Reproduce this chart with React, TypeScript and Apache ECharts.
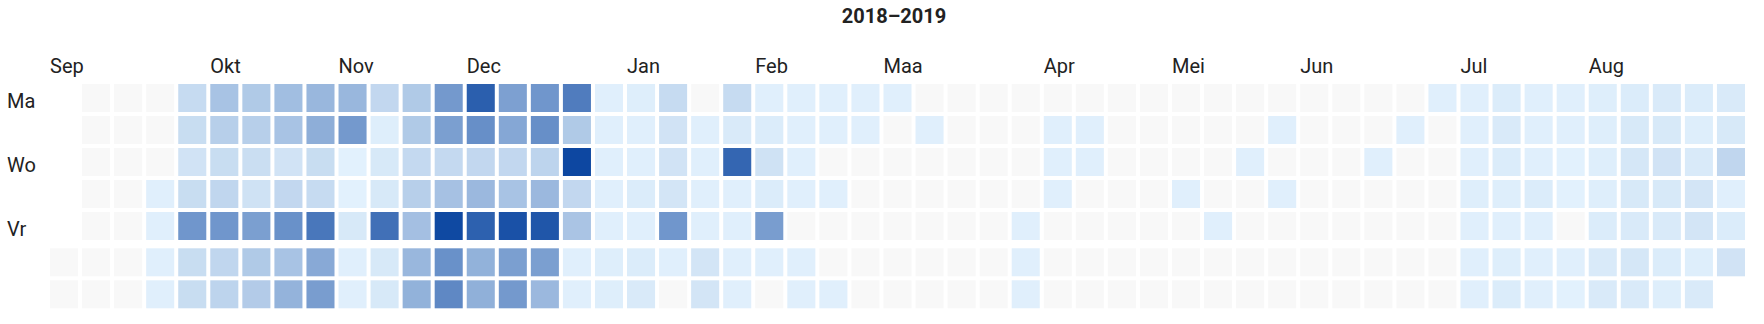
import React, { useEffect, useRef } from 'react';
import * as echarts from 'echarts';

const TITLE = '2018–2019';
const MONTH_LABELS = ['Sep', 'Okt', 'Nov', 'Dec', 'Jan', 'Feb', 'Maa', 'Apr', 'Mei', 'Jun', 'Jul', 'Aug'];
const DAY_LABELS = ['Ma', '', 'Wo', '', 'Vr', '', ''];

// daily values (0 = none), one array per month
const sep2018 = [0, 0, 0, 0, 0, 0, 0, 0, 0, 0, 0, 0, 0, 0, 0, 0, 0, 0, 0, 2, 2, 2, 2, 14, 13, 9, 13, 54, 13, 13];
const oct2018 = [28, 21, 13, 17, 54, 17, 18, 24, 21, 12, 10, 49, 24, 23, 31, 28, 9, 16, 57, 28, 37, 35, 40, 13, 14, 72, 43, 50, 35, 52, 1];
const nov2018 = [1, 6, 2, 2, 16, 3, 6, 6, 76, 6, 6, 24, 24, 15, 21, 30, 35, 38, 52, 49, 15, 29, 99, 57, 62, 86, 58, 16, 34, 85];
const dec2018 = [38, 39, 48, 44, 16, 28, 94, 49, 52, 54, 58, 18, 34, 91, 49, 34, 69, 24, 100, 16, 27, 2, 2, 2, 2, 2, 2, 2, 3, 3, 3];
const jan2019 = [2, 2, 4, 2, 4, 5, 14, 9, 9, 8, 54, 2, 0, 0, 2, 2, 2, 2, 8, 8, 14, 5, 82, 2, 2, 2, 2, 2, 4, 10, 4];
const feb2019 = [50, 2, 0, 2, 2, 2, 2, 0, 2, 2, 2, 2, 0, 2, 0, 0, 2, 2, 2, 0, 0, 0, 0, 0, 2, 0, 0, 0];
const mar2019 = [0, 0, 0, 0, 2, 0, 0, 0, 0, 0, 0, 0, 0, 0, 0, 0, 0, 0, 0, 0, 0, 0, 0, 0, 0, 0, 0, 0, 2, 2, 2];
const apr2019 = [0, 2, 2, 2, 0, 0, 0, 0, 2, 2, 0, 0, 0, 0, 0, 0, 0, 0, 0, 0, 0, 0, 0, 0, 0, 0, 0, 0, 0, 0];
const may2019 = [0, 2, 0, 0, 0, 0, 0, 0, 0, 2, 0, 0, 0, 0, 2, 0, 0, 0, 0, 0, 2, 0, 2, 0, 0, 0, 0, 0, 0, 0, 0];
const jun2019 = [0, 0, 0, 0, 0, 0, 0, 0, 0, 0, 0, 2, 0, 0, 0, 0, 0, 2, 0, 0, 0, 0, 0, 2, 0, 0, 0, 0, 0, 0];
const jul2019 = [2, 2, 2, 3, 2, 2, 2, 4, 5, 4, 3, 2, 3, 4, 2, 2, 2, 4, 2, 2, 2, 2, 2, 1, 1, 0, 2, 1, 3, 3, 3];
const aug2019 = [3, 4, 5, 5, 4, 6, 7, 6, 5, 7, 5, 5, 6, 9, 6, 5, 4, 3, 4, 3, 5, 8, 8, 3, 5, 5, 6, 17, 2, 4, 9];

const MONTHS: [number, number, number[]][] = [
  [2018, 8, sep2018], [2018, 9, oct2018], [2018, 10, nov2018], [2018, 11, dec2018],
  [2019, 0, jan2019], [2019, 1, feb2019], [2019, 2, mar2019], [2019, 3, apr2019],
  [2019, 4, may2019], [2019, 5, jun2019], [2019, 6, jul2019], [2019, 7, aug2019],
];

const CAL_LEFT = 48;
const CAL_RIGHT = 17;
const CAL_TOP = 82;
const CELL_H = 32;
const GAP = 4;
const WEEKEND_SHIFT = 4.3;
const FONT = 'Roboto, "Noto Sans", sans-serif';
const TEXT_COLOR = '#222';
const EMPTY_COLOR = '#f8f8f8';

function buildDays() {
  const out: [number, number][] = [];
  MONTHS.forEach(([y, m, vals]) => {
    vals.forEach((v, i) => out.push([+new Date(y, m, i + 1), v]));
  });
  return out;
}

export default function App() {
  const ref = useRef<HTMLDivElement>(null);
  useEffect(() => {
    if (!ref.current) return;
    const chart = echarts.init(ref.current, undefined, { renderer: 'svg' });
    const days = buildDays();
    const monthStarts = MONTHS.map(([y, m]) => [+new Date(y, m, 1), 0]);
    const option: any = {
      animation: false,
      title: {
        text: TITLE,
        left: 894,
        top: 6,
        padding: 0,
        textAlign: 'center',
        textStyle: { fontFamily: FONT, fontSize: 20, fontWeight: 'bold', color: TEXT_COLOR },
      },
      calendar: {
        left: CAL_LEFT,
        right: CAL_RIGHT,
        top: CAL_TOP,
        cellSize: ['auto', CELL_H],
        orient: 'horizontal',
        range: ['2018-09-01', '2019-08-31'],
        dayLabel: { show: false, firstDay: 1 },
        monthLabel: { show: false },
        yearLabel: { show: false },
        splitLine: { show: false },
        itemStyle: { color: 'rgba(0,0,0,0)', borderWidth: 0 },
      },
      visualMap: {
        show: false,
        type: 'continuous',
        min: 0.5,
        max: 100,
        dimension: 1,
        seriesIndex: 0,
        inRange: { color: ['#e3f2fd', '#0d47a1'] },
      },
      graphic: DAY_LABELS.map((t, i) =>
        t
          ? {
              type: 'text',
              x: 7,
              y: CAL_TOP + i * CELL_H + CELL_H / 2 + 2.5,
              style: { text: t, font: `20px ${FONT}`, fill: TEXT_COLOR, align: 'left', verticalAlign: 'middle' },
            }
          : null
      ).filter(Boolean),
      series: [
        {
          type: 'custom',
          coordinateSystem: 'calendar',
          data: days,
          renderItem: (params: any, api: any) => {
            const ts = api.value(0);
            const v = api.value(1);
            const pt = api.coord([ts]);
            const w = params.coordSys.cellWidth;
            const h = params.coordSys.cellHeight;
            const dow = new Date(ts).getDay();
            const shift = dow === 0 || dow === 6 ? WEEKEND_SHIFT : 0;
            return {
              type: 'rect',
              shape: { x: pt[0] - w / 2 + GAP / 2, y: pt[1] - h / 2 + GAP / 2 + shift, width: w - GAP, height: h - GAP },
              style: { fill: v > 0 ? api.visual('color') : EMPTY_COLOR },
            };
          },
        },
        {
          type: 'custom',
          coordinateSystem: 'calendar',
          data: monthStarts,
          renderItem: (params: any, api: any) => {
            const ts = api.value(0);
            const pt = api.coord([ts]);
            const w = params.coordSys.cellWidth;
            return {
              type: 'text',
              x: pt[0] - w / 2 + GAP / 2,
              y: params.coordSys.y - 16,
              style: {
                text: MONTH_LABELS[params.dataIndex],
                font: `20px ${FONT}`,
                fill: TEXT_COLOR,
                align: 'left',
                verticalAlign: 'middle',
              },
            };
          },
        },
      ],
    };
    chart.setOption(option);
    return () => chart.dispose();
  }, []);
  return <div ref={ref} style={{ position: 'absolute', left: 0, top: 0, width: 1764, height: 324 }} />;
}
